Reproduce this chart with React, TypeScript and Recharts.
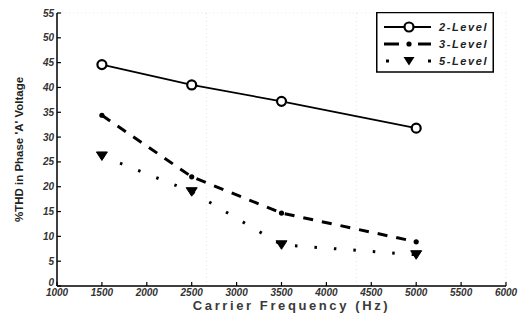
import React from 'react';
import { LineChart, Line, XAxis, YAxis, CartesianGrid, Legend } from 'recharts';

const frequencies = [1500, 2500, 3500, 5000];
const level2 = [44.6, 40.5, 37.2, 31.8];
const level3 = [34.4, 22.0, 14.7, 8.9];
const level5 = [26.2, 19.0, 8.3, 6.3];
const xTicks = [1000, 1500, 2000, 2500, 3000, 3500, 4000, 4500, 5000, 5500, 6000];
const yTicks = [0, 5, 10, 15, 20, 25, 30, 35, 40, 45, 50, 55];
const seriesNames = ['2-Level', '3-Level', '5-Level'];

const data = frequencies.map((f, i) => ({
  freq: f,
  l2: level2[i],
  l3: level3[i],
  l5: level5[i],
}));

const tickStyle = {
  fontFamily: 'Liberation Sans, Arial, sans-serif',
  fontSize: 10,
  fontStyle: 'italic',
  fontWeight: 'bold',
  fill: '#333',
};

const YTick = (props: any) => {
  const { x, y, payload } = props;
  const lift = payload.value === 0 ? -4 : 0;
  return (
    <text x={x} y={y + lift} dy="0.355em" textAnchor="end" style={tickStyle}>
      {payload.value}
    </text>
  );
};

const CircleDot = (props: any) => {
  const { cx, cy } = props;
  if (cx == null || cy == null) return null;
  return <circle cx={cx} cy={cy} r={4.5} fill="#fff" stroke="#000" strokeWidth={2.2} />;
};

const SmallDot = (props: any) => {
  const { cx, cy } = props;
  if (cx == null || cy == null) return null;
  return <circle cx={cx} cy={cy} r={2.6} fill="#000" />;
};

const TriDot = (props: any) => {
  const { cx, cy } = props;
  if (cx == null || cy == null) return null;
  return (
    <polygon
      points={`${cx - 5.5},${cy - 4} ${cx + 5.5},${cy - 4} ${cx},${cy + 4.5}`}
      fill="#000"
      stroke="#000"
      strokeWidth={1}
      strokeLinejoin="round"
    />
  );
};

const renderLegend = () => {
  const rowY = [15, 32, 49];
  const textStyle: any = {
    fontFamily: 'Liberation Sans, Arial, sans-serif',
    fontSize: 11,
    fontStyle: 'italic',
    fontWeight: 'bold',
    letterSpacing: 1.6,
    fill: '#222',
  };
  return (
    <svg width={118} height={61} style={{ display: 'block' }}>
      <rect x={0.75} y={0.5} width={116.5} height={59.5} fill="#fff" stroke="#000" strokeWidth={1.5} />
      <line x1={8} x2={55} y1={rowY[0]} y2={rowY[0]} stroke="#000" strokeWidth={2} />
      <circle cx={33} cy={rowY[0]} r={4.5} fill="#fff" stroke="#000" strokeWidth={2.2} />
      <text x={63} y={rowY[0] + 4} style={textStyle}>{seriesNames[0]}</text>
      <line x1={8} x2={23} y1={rowY[1]} y2={rowY[1]} stroke="#000" strokeWidth={3} />
      <circle cx={33} cy={rowY[1]} r={2.6} fill="#000" />
      <line x1={42} x2={55} y1={rowY[1]} y2={rowY[1]} stroke="#000" strokeWidth={3} />
      <text x={63} y={rowY[1] + 4} style={textStyle}>{seriesNames[1]}</text>
      <rect x={10} y={rowY[2] - 1.5} width={3} height={3} fill="#000" />
      <polygon points={`${27.5},${rowY[2] - 4} ${38.5},${rowY[2] - 4} ${33},${rowY[2] + 4.5}`} fill="#000" />
      <rect x={52} y={rowY[2] - 1.5} width={3} height={3} fill="#000" />
      <text x={63} y={rowY[2] + 4} style={textStyle}>{seriesNames[2]}</text>
    </svg>
  );
};

export default function App() {
  return (
    <div style={{ position: 'absolute', left: 0, top: 0, width: 524, height: 322, background: '#fff' }}>
      <LineChart
        width={524}
        height={322}
        data={data}
        margin={{ top: 13, right: 18, bottom: 0, left: 0 }}
      >
        <CartesianGrid stroke="#e4e4e4" strokeDasharray="1 3" />
        <XAxis
          xAxisId="main"
          dataKey="freq"
          type="number"
          domain={[1000, 6000]}
          ticks={xTicks}
          interval={0}
          height={36}
          stroke="#000"
          strokeWidth={1.5}
          tickSize={-4}
          tickMargin={7}
          tick={tickStyle}
          tickLine={{ stroke: '#000', strokeWidth: 1.2 }}
          label={{
            value: 'Carrier Frequency (Hz)',
            position: 'insideBottom',
            offset: 12,
            dx: 10,
            style: {
              fontFamily: 'Liberation Sans, Arial, sans-serif',
              fontSize: 13,
              fontWeight: 'bold',
              letterSpacing: 2.6,
              fill: '#3a3a3a',
            },
          }}
        />
        <XAxis
          xAxisId="top"
          orientation="top"
          dataKey="freq"
          type="number"
          domain={[1000, 6000]}
          ticks={xTicks}
          height={0}
          stroke="#bbb"
          tickSize={-3}
          tick={false}
          tickLine={{ stroke: '#bbb' }}
        />
        <YAxis
          yAxisId="left"
          type="number"
          domain={[0, 55]}
          ticks={yTicks}
          interval={0}
          width={57}
          stroke="#000"
          strokeWidth={1.5}
          tickSize={-4}
          tickMargin={7}
          tick={<YTick />}
          tickLine={{ stroke: '#000', strokeWidth: 1.2 }}
          label={{
            value: "%THD in Phase 'A' Voltage",
            angle: -90,
            position: 'insideLeft',
            offset: 19,
            style: {
              textAnchor: 'middle',
              fontFamily: 'Liberation Sans Narrow, Liberation Sans, Arial, sans-serif',
              fontSize: 11.5,
              fontWeight: 'bold',
              fill: '#222',
            },
          }}
        />
        <YAxis
          yAxisId="right"
          orientation="right"
          type="number"
          domain={[0, 55]}
          ticks={yTicks}
          width={0}
          stroke="#000"
          strokeWidth={1.5}
          tickSize={-4}
          tick={false}
          tickLine={{ stroke: '#000', strokeWidth: 1.2 }}
        />
        <Legend
          layout="vertical"
          align="center"
          verticalAlign="middle"
          content={renderLegend}
          wrapperStyle={{ left: 376, top: 12, width: 118, height: 61 }}
        />
        <Line
          xAxisId="main"
          yAxisId="left"
          dataKey="l2"
          name={seriesNames[0]}
          stroke="#000"
          strokeWidth={1.8}
          dot={<CircleDot />}
          isAnimationActive={false}
        />
        <Line
          xAxisId="main"
          yAxisId="left"
          dataKey="l3"
          name={seriesNames[1]}
          stroke="#000"
          strokeWidth={3}
          strokeDasharray="10 9"
          dot={<SmallDot />}
          isAnimationActive={false}
        />
        <Line
          xAxisId="main"
          yAxisId="left"
          dataKey="l5"
          name={seriesNames[2]}
          stroke="#000"
          strokeWidth={3}
          strokeDasharray="2.5 17"
          dot={<TriDot />}
          isAnimationActive={false}
        />
      </LineChart>
    </div>
  );
}
